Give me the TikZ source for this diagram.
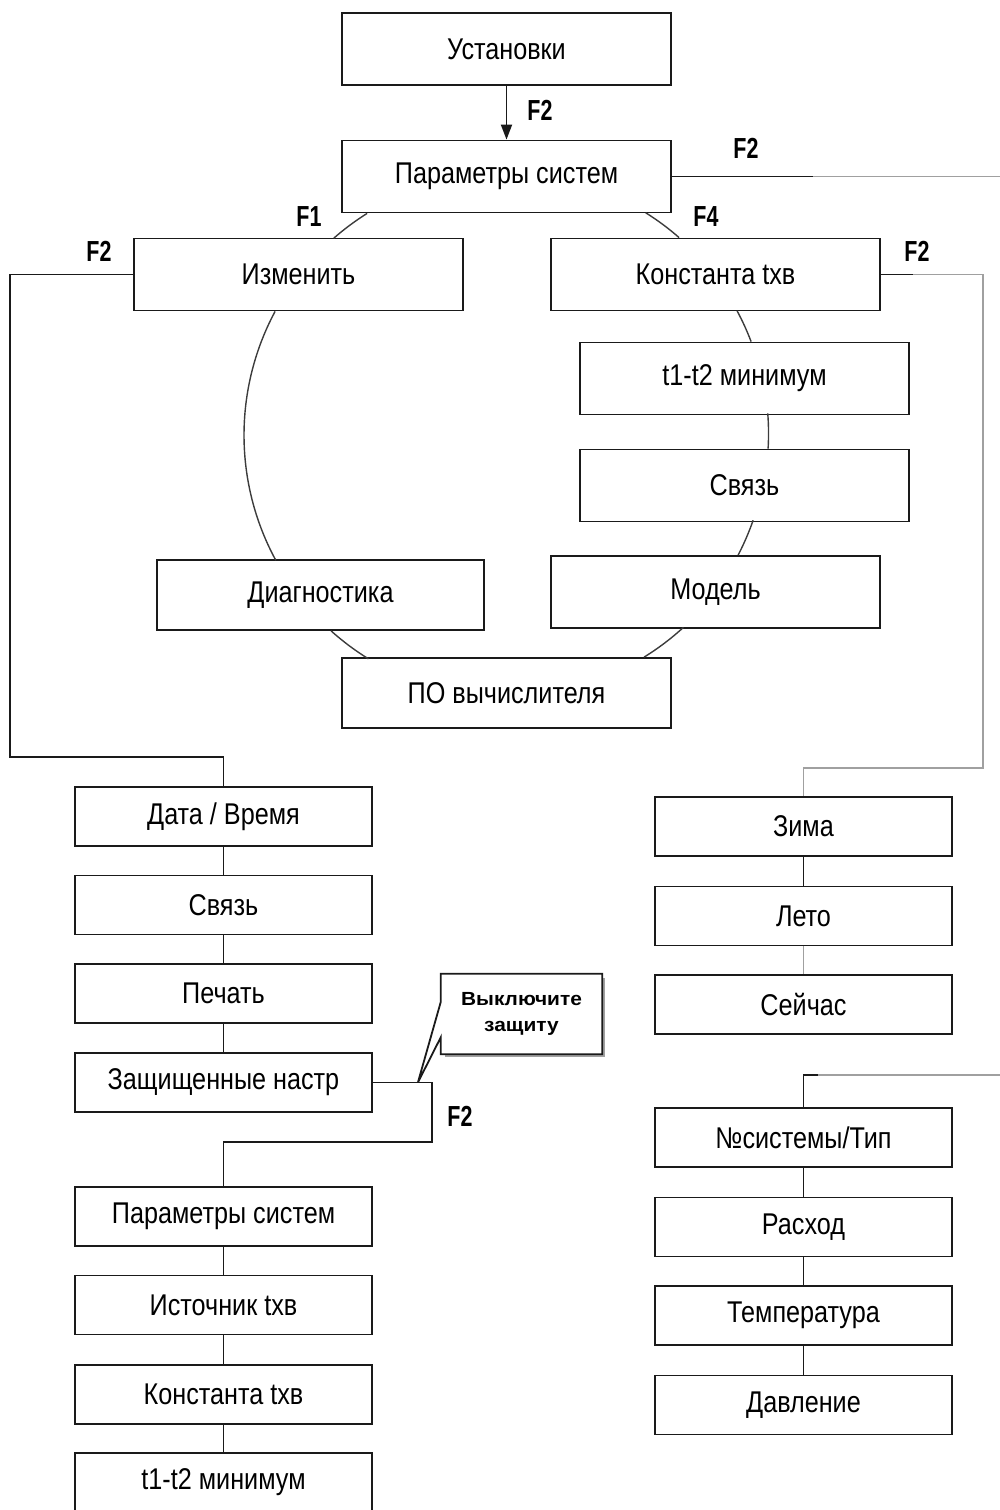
\documentclass[tikz,border=0pt]{standalone}
\usepackage{fontspec}
\setmainfont{Liberation Sans}[FakeStretch=0.84]
\newfontfamily\flab{Liberation Sans}[FakeStretch=0.74]
\newfontfamily\fcall{Liberation Sans}[FakeStretch=1.1]
\usetikzlibrary{arrows.meta,calc}
\definecolor{ink}{HTML}{1A1A1A}
\definecolor{lgray}{HTML}{A0A0A0}
\begin{document}
\begin{tikzpicture}[x=1pt,y=-1pt,
  line/.style={draw=ink,line width=1.8pt},
  grayline/.style={draw=lgray,line width=1.8pt},
  arcline/.style={draw=ink!85,line width=1.4pt},
  bigbox/.style={draw=ink,line width=1.8pt,minimum width=329pt,minimum height=72pt,inner sep=0pt,
    font=\fontsize{30}{34}\selectfont},
  smallbox/.style={draw=ink,line width=1.8pt,minimum width=297pt,minimum height=59pt,inner sep=0pt,
    font=\fontsize{30}{34}\selectfont},
  flabel/.style={inner sep=0pt,font=\flab\bfseries\fontsize{29}{32}\selectfont},
]
\useasboundingbox (0,0) rectangle (1000,1510);

% top part
\node[bigbox] (inst) at (506.5,49) {Установки};
\node[bigbox] (param) at (506.5,176.5) {Параметры систем};
\node[bigbox] (izm) at (298.5,274.5) {Изменить};
\node[bigbox] (konst) at (715.5,274.5) {Константа txв};
\node[bigbox] (t12R) at (744.5,378.5) {t1-t2 минимум};
\node[bigbox] (svR) at (744.5,485.5) {Связь};
\node[bigbox] (model) at (715.5,592) {Модель};
\node[bigbox,minimum width=327pt,minimum height=70pt] (diag) at (320.5,595) {Диагностика};
\node[bigbox,minimum height=70pt] (po) at (506.5,693) {ПО вычислителя};

% left column
\node[smallbox] (date) at (223.5,816.5) {Дата / Время};
\node[smallbox] (svL) at (223.5,905) {Связь};
\node[smallbox] (pech) at (223.5,993.5) {Печать};
\node[smallbox] (zasch) at (223.5,1082.5) {Защищенные настр};
\node[smallbox] (param2) at (223.5,1216.5) {Параметры систем};
\node[smallbox] (ist) at (223.5,1305) {Источник txв};
\node[smallbox] (konst2) at (223.5,1394.5) {Константа txв};
\node[smallbox] (t12L) at (223.5,1482.5) {t1-t2 минимум};

% right column
\node[smallbox] (zima) at (803.5,826.5) {Зима};
\node[smallbox] (leto) at (803.5,916) {Лето};
\node[smallbox] (seich) at (803.5,1004.5) {Сейчас};
\node[smallbox] (nsys) at (803.5,1137.5) {№системы/Тип};
\node[smallbox] (rash) at (803.5,1227) {Расход};
\node[smallbox] (temp) at (803.5,1315.5) {Температура};
\node[smallbox] (davl) at (803.5,1405) {Давление};

% labels
\node[flabel] (lF2a) at (540,110) {F2};
\node[flabel] (lF2b) at (746,148) {F2};
\node[flabel] (lF1) at (309,217) {F1};
\node[flabel] (lF4) at (706,217) {F4};
\node[flabel] (lF2c) at (99,251) {F2};
\node[flabel] (lF2d) at (917,251) {F2};
\node[flabel] (lF2e) at (460,1116) {F2};

% arrow
\draw[line,-{Triangle[length=15pt,width=11pt]}] (inst) -- (param);

% circle arcs (center (507,435), radius 262)
\draw[arcline] ($(param.south west)+(26,0)$) arc[start angle=237.9,end angle=228.8,radius=262];
\draw[arcline] ($(izm.south west)+(142,0)$) arc[start angle=208.2,end angle=151.5,radius=262];
\draw[arcline] ($(diag.south west)+(175,0)$) arc[start angle=131.9,end angle=121.7,radius=262];
\draw[arcline] ($(po.north west)+(303,0)$) arc[start angle=58.3,end angle=47.5,radius=262];
\draw[arcline] ($(model.north west)+(188,0)$) arc[start angle=27.5,end angle=19.2,radius=262];
\draw[arcline] ($(svR.north west)+(189,0)$) arc[start angle=3.3,end angle=-4.4,radius=262];
\draw[arcline] ($(t12R.north west)+(172,0)$) arc[start angle=-20.8,end angle=-28.2,radius=262];
\draw[arcline] ($(konst.north west)+(129,0)$) arc[start angle=-48.8,end angle=-57.9,radius=262];

% param -> right edge
\coordinate (pe1) at (813,176.5);
\coordinate (pe2) at (1003,176.5);
\draw[line] (param.east) -- (pe1);
\draw[grayline] (pe1) -- (pe2);

% konst -> zima
\coordinate (k1) at (913,274.5);
\draw[line] (konst.east) -- (k1);
\draw[grayline] (k1) -| (983,768) -| (zima.north);

% izm -> date
\draw[line] (izm.west) -| (10,757) -| (date.north);

% left column connectors
\draw[line] (date) -- (svL);
\draw[line] (svL) -- (pech);
\draw[line] (pech) -- (zasch);
\draw[line] (zasch.east) -| (432,1142) -| (param2.north);
\draw[line] (param2) -- (ist);
\draw[line] (ist) -- (konst2);
\draw[line] (konst2) -- (t12L);

% right column connectors
\draw[line] (zima) -- (leto);
\draw[grayline] (leto) -- (seich);
\coordinate (n2) at (1003,1075);
\coordinate (n1) at (818,1075);
\draw[grayline] (n2) -- (n1);
\draw[line] (n1) -| (nsys.north);
\draw[line] (nsys) -- (rash);
\draw[line] (rash) -- (temp);
\draw[line] (temp) -- (davl);

% callout
\node[minimum width=161pt,minimum height=80pt,inner sep=0pt,align=center,
  font=\fcall\bfseries\fontsize{19}{26}\selectfont] (callout) at (521.5,1014) {Выключите\\защиту};
\coordinate (tip) at ($(zasch.east)+(45,0)$);
\draw[lgray,line width=2.2pt] ($(callout.north east)+(2,4)$) -- ($(callout.south east)+(2,2)$) -- ($(callout.south west)+(4,2)$);
\draw[line,line join=miter] ($(callout.south west)+(0,-17)$) -- (tip) -- ($(callout.north west)+(0,28)$)
  -- (callout.north west) -- (callout.north east) -- (callout.south east) -- (callout.south west) -- cycle;
\end{tikzpicture}
\end{document}
